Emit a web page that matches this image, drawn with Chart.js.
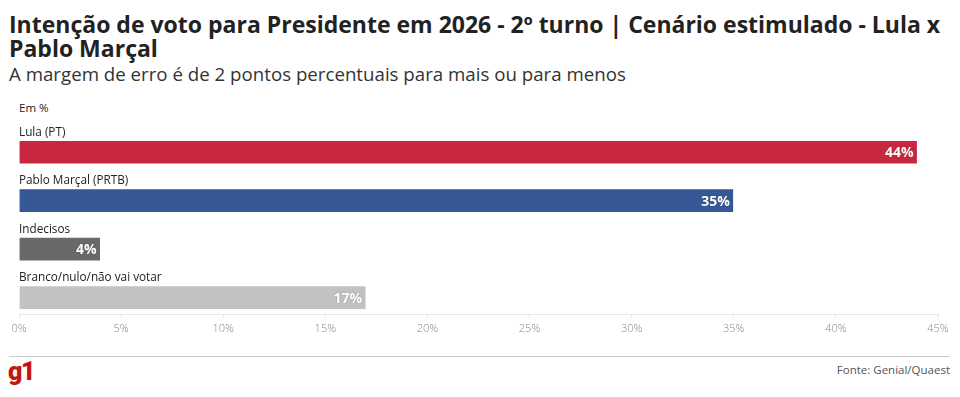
<!DOCTYPE html>
<html lang="pt-BR">
<head>
<meta charset="utf-8">
<script src="https://cdn.jsdelivr.net/npm/chart.js@4/dist/chart.umd.min.js"></script>
<style>
  html, body { margin: 0; padding: 0; background: #fff; }
  body { width: 960px; height: 397px; position: relative; overflow: hidden; font-family: "Open Sans", sans-serif; color: #222; }
  #title { position: absolute; left: 9px; top: 12px; width: 950px; font-size: 23px; line-height: 24px; font-weight: 700; white-space: nowrap; }
  #subtitle { position: absolute; left: 9px; top: 63px; font-size: 18.7px; line-height: 22px; color: #333; white-space: nowrap; }
  #unit { position: absolute; left: 19px; top: 100px; font-size: 11.5px; line-height: 16px; color: #222; }
  #chartBox { position: absolute; left: 0; top: 120px; width: 960px; height: 225px; }
  #rule { position: absolute; left: 9px; top: 356px; width: 941px; height: 1px; background: #ccc; }
  #logo { position: absolute; left: 8px; top: 358px; font-family: Roboto, sans-serif; font-size: 25px; line-height: 28px; font-weight: 900; color: #c4170c; letter-spacing: -1.5px; }
  #source { position: absolute; right: 10px; top: 362px; font-size: 11.5px; line-height: 16px; color: #555; }
</style>
</head>
<body>
<div id="title">Intenção de voto para Presidente em 2026 - 2º turno | Cenário estimulado - Lula x<br>Pablo Marçal</div>
<div id="subtitle">A margem de erro é de 2 pontos percentuais para mais ou para menos</div>
<div id="unit">Em %</div>
<div id="chartBox"><canvas id="resultsChart"></canvas></div>
<div id="rule"></div>
<div id="logo">g1</div>
<div id="source">Fonte: Genial/Quaest</div>

<script>
const categories = ["Lula (PT)", "Pablo Marçal (PRTB)", "Indecisos", "Branco/nulo/não vai votar"];
const values = [44, 35, 4, 17];
const barColors = ["#c8283f", "#365896", "#696969", "#c2c2c2"];
const tickMax = 45;

// white value labels at the end of each bar
const valueLabels = {
    id: "valueLabels",
    afterDatasetsDraw(chart) {
        const ctx = chart.ctx;
        const meta = chart.getDatasetMeta(0);
        ctx.save();
        ctx.font = "700 14px 'Open Sans', sans-serif";
        ctx.fillStyle = "#fff";
        ctx.textAlign = "right";
        ctx.textBaseline = "middle";
        ctx.shadowColor = "rgba(0,0,0,0.25)";
        ctx.shadowBlur = 2;
        meta.data.forEach((bar, i) => {
            ctx.fillText(values[i] + "%", bar.x - 4, bar.y + 1);
        });
        ctx.restore();
    }
};

document.addEventListener("DOMContentLoaded", function () {
    new Chart("resultsChart", {
        type: "bar",
        data: {
            datasets: [{
                data: values.map((v, i) => ({ x: v, y: i })),
                backgroundColor: barColors,
                borderColor: "rgba(255,255,255,0.45)",
                borderWidth: 1,
                barThickness: 24
            }]
        },
        options: {
            indexAxis: "y",
            responsive: true,
            maintainAspectRatio: false,
            animation: false,
            layout: { padding: { left: 19, right: 22, top: 8, bottom: 7 } },
            plugins: {
                legend: { display: false },
                tooltip: { enabled: false }
            },
            scales: {
                x: {
                    min: 0,
                    max: tickMax,
                    border: { color: "#e8e8e8" },
                    grid: { drawOnChartArea: false, drawTicks: true, tickLength: 4, color: "#e8e8e8" },
                    ticks: {
                        stepSize: 5,
                        padding: 3,
                        color: "#888",
                        font: { family: "'Open Sans', sans-serif", size: 11, weight: 300 },
                        callback: function (v) { return v + "%"; }
                    }
                },
                y: {
                    type: "linear",
                    reverse: true,
                    offset: false,
                    min: -0.5,
                    max: 3.354,
                    afterBuildTicks: function (scale) {
                        scale.ticks = categories.map((c, i) => ({ value: i }));
                    },
                    afterFit: function (scale) {
                        scale.paddingTop = 0;
                        scale.paddingBottom = 0;
                    },
                    border: { display: false },
                    grid: { display: false, drawTicks: false, offset: false },
                    ticks: {
                        mirror: true,
                        padding: 0,
                        labelOffset: -20,
                        color: "#222",
                        font: { family: "'Open Sans', sans-serif", size: 11.75 },
                        callback: function (v) { return categories[v]; }
                    }
                }
            }
        },
        plugins: [valueLabels]
    });
});
</script>
</body>
</html>
